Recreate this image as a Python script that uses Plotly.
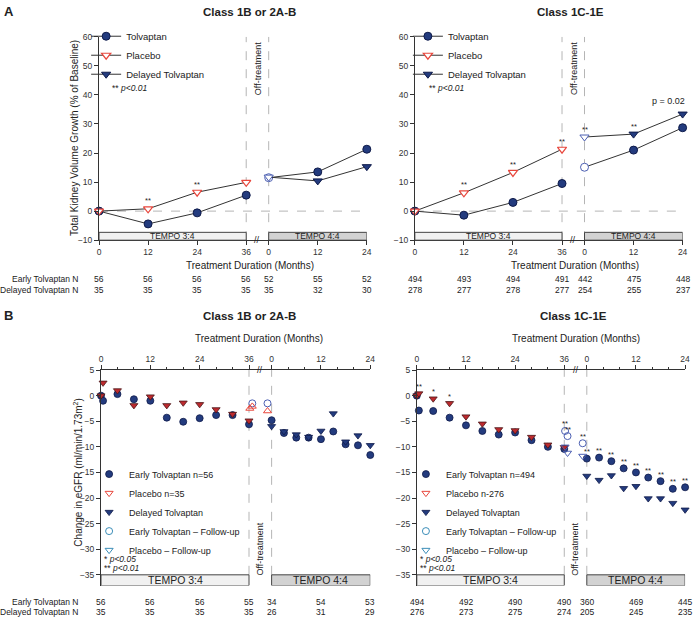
import plotly.graph_objects as go

# ---------------- data ----------------
OFF = 41.5  # axis position of TEMPO 4:4 month 0 on the broken axis

tick_m34 = [0, 12, 24, 36]
tick_m44 = [0, 12, 24]
tick_text = ["0", "12", "24", "36", "0", "12", "24"]

# Panel A: total kidney volume growth (% of baseline)
a_m34 = [0, 12, 24, 36]
a_m44 = [0, 12, 24]

a1_tolvaptan = [0, -4.4, -0.6, 5.5]
a1_tolvaptan_44 = [11.5, 13.5, 21.3]
a1_placebo = [0, 0.8, 6.5, 9.9]
a1_delayed_44 = [11.7, 10.4, 15.3]
a1_placebo_sig = ["", "**", "**", ""]
a1_delayed_sig = ["", "", ""]
a1_n_early = [56, 56, 56, 56, 52, 55, 52]
a1_n_delayed = [35, 35, 35, 35, 35, 32, 30]

a2_tolvaptan = [0, -1.4, 3.0, 9.5]
a2_tolvaptan_44 = [15.1, 21.0, 28.7]
a2_placebo = [0, 6.3, 13.3, 21.3]
a2_delayed_44 = [25.5, 26.5, 33.4]
a2_placebo_sig = ["", "**", "**", "**"]
a2_delayed_sig = ["**", "**", "p = 0.02"]
a2_n_early = [494, 493, 494, 491, 442, 475, 448]
a2_n_delayed = [278, 277, 278, 277, 254, 255, 237]

# Panel B: change in eGFR
b_m34 = [0, 0.5, 4, 8, 12, 16, 20, 24, 28, 32, 36]
b_m44 = [0, 3, 6, 9, 12, 15, 18, 21, 24]
b_minor = [4, 8, 16, 20, 28, 32]
b_minor_44 = [4, 8, 16, 20]

b1_tolvaptan = [0, -1.0, 0.3, -0.7, -1.0, -4.3, -5.1, -4.4, -3.8, -3.8, -5.6]
b1_placebo = [0, 2.5, 1.0, -1.9, -0.2, -1.9, -1.4, -1.7, -2.7, -3.6, -4.9]
b1_tolvaptan_44 = [-4.8, -7.3, -8.2, -8.2, -8.5, -7.0, -9.5, -9.7, -11.6]
b1_delayed_44 = [-6.0, -7.0, -7.6, -8.1, -6.9, -3.5, -9.0, -7.8, -9.7]
b1_fu_circle_x = [36.8, 40.5]
b1_fu_circle_y = [-1.5, -1.5]
b1_fu_tri_x = [36.2, 36.8, 40.5]
b1_fu_tri_y = [-2.5, -2.1, -3.0]
b1_n_early = [56, 56, 56, 55, 34, 54, 53]
b1_n_delayed = [35, 35, 35, 35, 26, 31, 29]

b2_tolvaptan = [0, -2.9, -3.0, -4.3, -5.8, -6.9, -7.6, -7.2, -8.7, -10.0, -10.4]
b2_placebo = [0, 0.4, -0.6, -1.5, -4.1, -5.5, -6.6, -6.8, -8.1, -9.6, -10.1]
b2_placebo_sig = ["", "**", "*", "*", "", "", "", "", "", "", ""]
b2_tolvaptan_44 = [-12.3, -12.1, -12.8, -14.2, -15.0, -16.0, -16.7, -18.2, -17.9]
b2_tolvaptan_44_sig = ["**"] * 9
b2_delayed_44 = [-15.7, -16.5, -15.6, -18.1, -17.7, -20.1, -20.1, -21.0, -22.3]
b2_fu_circle_x = [36.2, 36.8, 40.5]
b2_fu_circle_y = [-6.9, -7.9, -9.3]
b2_fu_circle_sig = ["**", "**", "**"]
b2_fu_tri_x = [36.2, 36.8, 40.5]
b2_fu_tri_y = [-10.0, -11.2, -11.8]
b2_n_early = [494, 492, 490, 490, 360, 469, 445]
b2_n_delayed = [276, 273, 275, 274, 205, 245, 235]

# ---------------- style ----------------
W, H = 700, 625
FONT = "Liberation Sans, Arial, sans-serif"
NAVY = "#233b7e"
NAVY_EDGE = "#0f1b4a"
RED = "#e8473d"
DARKRED = "#bd2a2e"
FU_BLUE = "#4c5fb2"
TEAL = "#3a8db8"
LINE = "#333333"
TXT = "#222222"


def px(v):
    return v / W


def py(v):
    return 1 - v / H


fig = go.Figure()
annotations = []
shapes = []


def text(x, y, s, xref="paper", yref="paper", size=9, **kw):
    a = dict(x=x, y=y, text=s, xref=xref, yref=yref, showarrow=False,
             xanchor="center", yanchor="middle",
             font=dict(size=size, family=FONT, color=TXT))
    a.update(kw)
    annotations.append(a)


def sig_marks(xs, ys, sigs, xref, yref, shift=8):
    for x, y, s in zip(xs, ys, sigs):
        if not s:
            continue
        if s.startswith("p"):
            text(x, y, s, xref, yref, size=9, yshift=shift + 5, xshift=-14)
        else:
            text(x, y, s, xref, yref, size=7.5, yshift=shift)


def n_rows(xref, early, delayed, y1, y2, labels):
    pos = tick_m34 + [OFF + m for m in tick_m44]
    for x, a, b in zip(pos, early, delayed):
        text(x, py(y1), str(a), xref=xref, size=8.5)
        text(x, py(y2), str(b), xref=xref, size=8.5)
    if labels:
        text(px(79), py(y1), "Early Tolvaptan N", size=8.5, xanchor="right")
        text(px(79), py(y2), "Delayed Tolvaptan N", size=8.5, xanchor="right")


def breaks(xref, yref, top, bottom, box_y0, box_y1, box_font):
    for xv in (36, OFF):
        shapes.append(dict(type="line", xref=xref, yref=yref, x0=xv, x1=xv, y0=bottom, y1=top,
                           line=dict(color="#b5b5b5", width=1, dash="dash"), layer="below"))
    shapes.append(dict(type="rect", xref=xref, yref=yref, x0=0, x1=36, y0=box_y0, y1=box_y1,
                       fillcolor="#f1f1f1", line=dict(color="#444", width=1), layer="above"))
    shapes.append(dict(type="rect", xref=xref, yref=yref, x0=OFF, x1=OFF + 24, y0=box_y0, y1=box_y1,
                       fillcolor="#d2d2d2", line=dict(color="#444", width=1), layer="above"))
    ym = (box_y0 + box_y1) / 2
    text(18, ym, "TEMPO 3:4", xref, yref, size=box_font)
    text(OFF + 12, ym, "TEMPO 4:4", xref, yref, size=box_font)


def panel_a(k, tol, tol44, plc, dly44, plc_sig, dly_sig, legend):
    xr = "x" if k == 1 else "x%d" % k
    yr = "y" if k == 1 else "y%d" % k
    x44 = [OFF + m for m in a_m44]

    fig.add_trace(go.Scatter(
        x=a_m34 + [None] + x44, y=tol + [None] + tol44,
        mode="lines+markers", name="Tolvaptan", legend=legend,
        xaxis=xr, yaxis=yr, cliponaxis=False,
        line=dict(color=LINE, width=1),
        marker=dict(symbol="circle", size=8,
                    color=[NAVY] * 5 + ["white"] + [NAVY] * 2,
                    line=dict(width=1, color=[NAVY_EDGE] * 5 + [FU_BLUE] + [NAVY_EDGE] * 2))))
    fig.add_trace(go.Scatter(
        x=a_m34, y=plc, mode="lines+markers", name="Placebo", legend=legend,
        xaxis=xr, yaxis=yr, cliponaxis=False,
        line=dict(color=LINE, width=1),
        marker=dict(symbol="triangle-down", size=8, color="white",
                    line=dict(width=1.2, color=RED))))
    # reversed so the legend picks up the filled symbol
    fig.add_trace(go.Scatter(
        x=x44[::-1], y=dly44[::-1], mode="lines+markers", name="Delayed Tolvaptan",
        legend=legend, xaxis=xr, yaxis=yr, cliponaxis=False,
        line=dict(color=LINE, width=1),
        marker=dict(symbol="triangle-down", size=8, color=[NAVY, NAVY, "white"],
                    line=dict(width=1, color=[NAVY_EDGE, NAVY_EDGE, FU_BLUE]))))

    sig_marks(a_m34, plc, plc_sig, xr, yr)
    sig_marks(x44, dly44, dly_sig, xr, yr)

    shapes.append(dict(type="line", xref=xr, yref=yr, x0=0, x1=OFF + 24, y0=0, y1=0,
                       line=dict(color="#b5b5b5", width=1, dash="dash"), layer="below"))
    breaks(xr, yr, 60, -10, -10, -7.3, 8.5)
    text(38.75, 49, "Off-treatment", xr, yr, size=9, textangle=-90)
    text(38.75, -10, "//", xr, yr, size=9)


def panel_b(k, tol, plc, tol44, dly44, fcx, fcy, ftx, fty, tri_sym, tri_col,
            names, legend, plc_sig=None, tol44_sig=None, fc_sig=None):
    xr = "x%d" % k
    yr = "y%d" % k
    x44 = [OFF + m for m in b_m44]
    mk = dict(xaxis=xr, yaxis=yr, cliponaxis=False, mode="markers", legend=legend)

    fig.add_trace(go.Scatter(
        x=b_m34 + x44, y=tol + tol44, name=names[0],
        marker=dict(symbol="circle", size=7, color=NAVY, line=dict(width=0.8, color=NAVY_EDGE)), **mk))
    fig.add_trace(go.Scatter(
        x=[None], y=[None], name=names[1],
        marker=dict(symbol="triangle-down-open", size=7, color=RED, line=dict(width=1)), **mk))
    fig.add_trace(go.Scatter(
        x=b_m34, y=plc, name="Placebo", showlegend=False,
        marker=dict(symbol="triangle-down", size=7, color=DARKRED, line=dict(width=0.8, color="#4a1518")), **mk))
    fig.add_trace(go.Scatter(
        x=x44, y=dly44, name="Delayed Tolvaptan",
        marker=dict(symbol="triangle-down", size=7, color=NAVY, line=dict(width=0.8, color=NAVY_EDGE)), **mk))
    fig.add_trace(go.Scatter(
        x=fcx, y=fcy, name="Early Tolvaptan follow-up", showlegend=False,
        marker=dict(symbol="circle-open", size=7, color=FU_BLUE, line=dict(width=1)), **mk))
    fig.add_trace(go.Scatter(
        x=ftx, y=fty, name="Placebo follow-up", showlegend=False,
        marker=dict(symbol=tri_sym, size=7, color=tri_col, line=dict(width=1)), **mk))
    fig.add_trace(go.Scatter(
        x=[None], y=[None], name="Early Tolvaptan \u2013 Follow-up",
        marker=dict(symbol="circle-open", size=7, color=TEAL, line=dict(width=1)), **mk))
    fig.add_trace(go.Scatter(
        x=[None], y=[None], name="Placebo \u2013 Follow-up",
        marker=dict(symbol="triangle-down-open", size=7, color=TEAL, line=dict(width=1)), **mk))

    if plc_sig:
        sig_marks(b_m34, plc, plc_sig, xr, yr, shift=7)
    if tol44_sig:
        sig_marks(x44, tol44, tol44_sig, xr, yr, shift=7)
    if fc_sig:
        sig_marks(fcx, fcy, fc_sig, xr, yr, shift=7)

    breaks(xr, yr, 5, -35, -37.1, -35, 10.5)
    text(38.75, -30, "Off-treatment", xr, yr, size=9, textangle=-90)
    text(38.75, 5, "//", xr, yr, size=9)


panel_a(1, a1_tolvaptan, a1_tolvaptan_44, a1_placebo, a1_delayed_44,
        a1_placebo_sig, a1_delayed_sig, "legend")
panel_a(2, a2_tolvaptan, a2_tolvaptan_44, a2_placebo, a2_delayed_44,
        a2_placebo_sig, a2_delayed_sig, "legend2")
panel_b(3, b1_tolvaptan, b1_placebo, b1_tolvaptan_44, b1_delayed_44,
        b1_fu_circle_x, b1_fu_circle_y, b1_fu_tri_x, b1_fu_tri_y,
        "triangle-up-open", RED, ["Early Tolvaptan n=56", "Placebo n=35"], "legend3")
panel_b(4, b2_tolvaptan, b2_placebo, b2_tolvaptan_44, b2_delayed_44,
        b2_fu_circle_x, b2_fu_circle_y, b2_fu_tri_x, b2_fu_tri_y,
        "triangle-down-open", FU_BLUE, ["Early Tolvaptan n=494", "Placebo n-276"], "legend4",
        plc_sig=b2_placebo_sig, tol44_sig=b2_tolvaptan_44_sig, fc_sig=b2_fu_circle_sig)

# N at risk rows
n_rows("x", a1_n_early, a1_n_delayed, 278, 290, True)
n_rows("x2", a2_n_early, a2_n_delayed, 278, 290, False)
n_rows("x3", b1_n_early, b1_n_delayed, 607, 617, True)
n_rows("x4", b2_n_early, b2_n_delayed, 607, 617, False)

# titles and labels
text(px(7), py(7), "<b>A</b>", size=13)
text(px(7), py(316), "<b>B</b>", size=13)
text(px(250), py(7), "<b>Class 1B or 2A-B</b>", size=11.5)
text(px(574), py(7), "<b>Class 1C-1E</b>", size=11.5)
text(px(250), py(316), "<b>Class 1B or 2A-B</b>", size=11.5)
text(px(577), py(316), "<b>Class 1C-1E</b>", size=11.5)
text(px(250), py(264.5), "Treatment Duration (Months)", size=10)
text(px(579), py(264.5), "Treatment Duration (Months)", size=10)
text(px(260), py(339), "Treatment Duration (Months)", size=10)
text(px(580), py(339), "Treatment Duration (Months)", size=10)
text(px(74), py(135), "Total Kidney Volume Growth (% of Baseline)", size=10, textangle=-90)
text(px(77), py(475), "Change in eGFR (ml/min/1.73m<sup>2</sup>)", size=10, textangle=-90)

text(px(109), py(84), "** <i>p&lt;0.01</i>", size=8.5, xanchor="left")
text(px(429), py(84), "** <i>p&lt;0.01</i>", size=8.5, xanchor="left")
for xl in (101, 420):
    text(px(xl), py(563), "* <i>p&lt;0.05</i>", size=8.5, xanchor="left")
    text(px(xl), py(572.5), "** <i>p&lt;0.01</i>", size=8.5, xanchor="left")

# ---------------- axes ----------------
axis_style = dict(showgrid=False, zeroline=False, showline=True, linecolor="#333", linewidth=1,
                  ticks="outside", ticklen=4, tickcolor="#333", tickwidth=1,
                  tickfont=dict(size=8.5, family=FONT, color="#333"))
xticks = dict(range=[0, OFF + 24], tickmode="array",
              tickvals=tick_m34 + [OFF + m for m in tick_m44], ticktext=tick_text)
minor = dict(tickmode="array", tickvals=b_minor + [OFF + m for m in b_minor_44],
             ticks="outside", ticklen=2.5, tickcolor="#333")

A_Y = [py(239), py(32.3)]
B_Y = [py(590), py(371)]

legend_style = dict(bgcolor="rgba(0,0,0,0)", font=dict(size=9.5, family=FONT, color=TXT),
                    xanchor="left", yanchor="top", itemwidth=30, tracegroupgap=0)
legend_b = dict(legend_style, font=dict(size=9, family=FONT, color=TXT))

fig.update_layout(
    width=W, height=H, autosize=False,
    margin=dict(l=0, r=0, t=0, b=0),
    paper_bgcolor="white", plot_bgcolor="white",
    font=dict(family=FONT, color=TXT),
    xaxis=dict(domain=[px(98), px(368.5)], anchor="y", **xticks, **axis_style),
    yaxis=dict(domain=A_Y, anchor="x", range=[-10, 60], dtick=10, **axis_style),
    xaxis2=dict(domain=[px(417), px(687.5)], anchor="y2", **xticks, **axis_style),
    yaxis2=dict(domain=A_Y, anchor="x2", range=[-10, 60], dtick=10, **axis_style),
    xaxis3=dict(domain=[px(100), px(372)], anchor="y3", side="top", minor=minor, **xticks, **axis_style),
    yaxis3=dict(domain=B_Y, anchor="x3", range=[-37.1, 5], tickmode="array",
                tickvals=[5, 0, -5, -10, -15, -20, -25, -30, -35], **axis_style),
    xaxis4=dict(domain=[px(419), px(690)], anchor="y4", side="top", minor=minor, **xticks, **axis_style),
    yaxis4=dict(domain=B_Y, anchor="x4", range=[-37.1, 5], tickmode="array",
                tickvals=[5, 0, -5, -10, -15, -20, -25, -30, -35], **axis_style),
    legend=dict(x=px(85), y=py(17), **legend_style),
    legend2=dict(x=px(410), y=py(17), **legend_style),
    legend3=dict(x=px(88), y=py(462), **legend_b),
    legend4=dict(x=px(408), y=py(462), **legend_b),
    annotations=annotations,
    shapes=shapes,
)

fig.write_html("out.html", config={"displayModeBar": False},
               post_script="document.body.style.margin='0px';")
